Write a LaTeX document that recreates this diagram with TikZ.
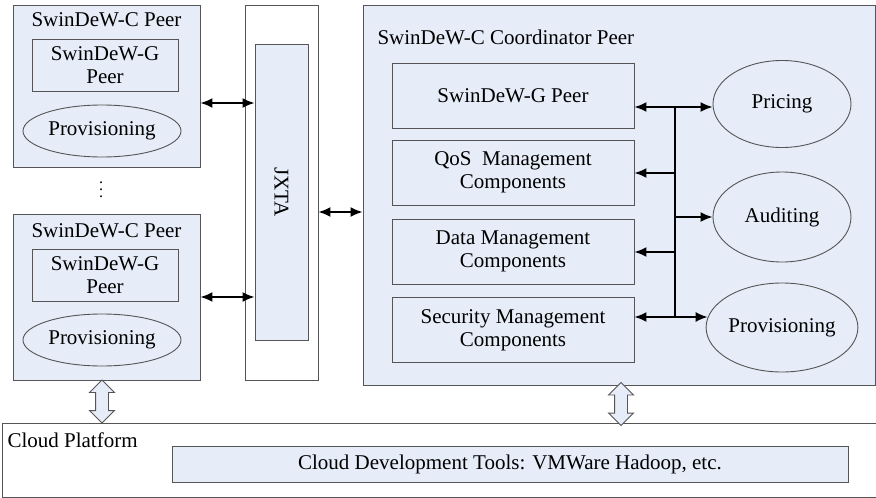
\documentclass[tikz,border=0pt]{standalone}
\usepackage{fontspec}
\setmainfont{Liberation Serif}
\newfontfamily\figfont{Liberation Serif}
\usetikzlibrary{shapes.geometric,shapes.arrows,arrows.meta,calc}
\definecolor{peerblue}{RGB}{230,237,248}
\definecolor{edgegray}{RGB}{85,85,85}
\begin{document}
\begin{tikzpicture}[x=1pt,y=-1pt,
    every node/.style={font=\figfont\fontsize{21}{23}\selectfont},
    box/.style={draw=edgegray,line width=0.9pt,fill=peerblue,inner sep=0pt,align=center},
    oval/.style={ellipse,draw=edgegray,line width=0.9pt,fill=peerblue,inner sep=0pt},
    link/.style={line width=1.7pt,{Latex[length=12pt,width=10pt]}-{Latex[length=12pt,width=10pt]}},
    tip/.style={line width=1.7pt,-{Latex[length=12pt,width=10pt]}},
    hollow/.style={double arrow,shape border rotate=90,draw=edgegray,line width=0.9pt,fill=peerblue,
      minimum height=43pt,double arrow head extend=6pt,inner xsep=6pt,inner ysep=0pt}]
  \useasboundingbox (0,0) rectangle (876,498);
  % peers on the left
  \node (peerA) [box,minimum width=187pt,minimum height=162pt] at (106.5,86) {};
  \node (titleA) at (106.5,20) {SwinDeW-C Peer};
  \node (gA) [box,minimum width=146pt,minimum height=52pt] at (105,65) {SwinDeW-G\\Peer};
  \node (provA) [oval,minimum width=158pt,minimum height=52pt] at (102,131) {Provisioning};
  \node (dots) [font=\figfont\fontsize{16}{16}\selectfont,inner sep=0pt] at (101,190) {\shortstack{.\\[2pt].\\[2pt].}};
  \node (peerB) [box,minimum width=187pt,minimum height=166pt] at (106.5,297) {};
  \node (titleB) at (106.5,231) {SwinDeW-C Peer};
  \node (gB) [box,minimum width=146pt,minimum height=52pt] at (105,275) {SwinDeW-G\\Peer};
  \node (provB) [oval,minimum width=158pt,minimum height=52pt] at (102,340) {Provisioning};
  % JXTA
  \node (jxta) [box,fill=white,minimum width=73pt,minimum height=375pt] at (281.5,192.5) {};
  \node (jxtaIn) [box,minimum width=53pt,minimum height=296pt] at (281.5,192) {};
  \node (jxtaText) [rotate=-90] at (281.5,192) {JXTA};
  % coordinator peer
  \node (coord) [box,minimum width=512pt,minimum height=380pt] at (619,195) {};
  \node (coordTitle) [anchor=west] at (374,37) {SwinDeW-C Coordinator Peer};
  \node (gpeer) [box,minimum width=242pt,minimum height=65pt] at (513,95.5) {SwinDeW-G Peer};
  \node (qos) [box,minimum width=242pt,minimum height=65pt] at (513,172.5) {QoS\ \ Management\\Components};
  \node (data) [box,minimum width=242pt,minimum height=65pt] at (513,251.5) {Data Management\\Components};
  \node (sec) [box,minimum width=242pt,minimum height=65pt] at (513,330) {Security Management\\Components};
  \node (pricing) [oval,minimum width=138pt,minimum height=87pt] at (782,104) {Pricing};
  \node (auditing) [oval,minimum width=138pt,minimum height=90pt] at (782,217) {Auditing};
  \node (provC) [oval,minimum width=138pt,minimum height=89pt] at (782,327.5) {Provisioning};
  \coordinate (busT) at (675,107);
  \coordinate (busB) at (675,317);
  % cloud platform
  \node (cloud) [draw=edgegray,line width=0.9pt,fill=white,minimum width=876pt,minimum height=74pt,inner sep=0pt] at (440,460) {};
  \node (cloudText) [anchor=west] at (4,440) {Cloud Platform};
  \node (tools) [box,minimum width=676pt,minimum height=36pt] at (510,464) {Cloud Development Tools: VMWare Hadoop, etc.};
  \node (upA) [hollow] at ($(peerB.south)!0.5!(peerB.south |- cloud.north)-(4.5,0)$) {};
  \node (upC) [hollow] at ($(coord.south)!0.5!(coord.south |- cloud.north)+(2,0)$) {};
  % connectors
  \draw [link] (peerA.east |- 0,103) -- (jxtaIn.west |- 0,103);
  \draw [link] (peerB.east |- 0,297) -- (jxtaIn.west |- 0,297);
  \draw [link] (jxta.east |- 0,212) -- (coord.west |- 0,212);
  \draw [line width=1.7pt] (busT) -- (busB);
  \draw [tip] (busT) -- (gpeer.east |- busT);
  \draw [tip] (busT) -- (pricing.west |- busT);
  \draw [tip] (busT |- 0,173) -- (qos.east |- 0,173);
  \draw [tip] (busT |- 0,217) -- (auditing.west |- 0,217);
  \draw [tip] (busT |- 0,252) -- (data.east |- 0,252);
  \draw [tip] (busB) -- (sec.east |- busB);
  \draw [tip] (busB) -- ($(provC.west |- busB)+(2,0)$);
\end{tikzpicture}
\end{document}
